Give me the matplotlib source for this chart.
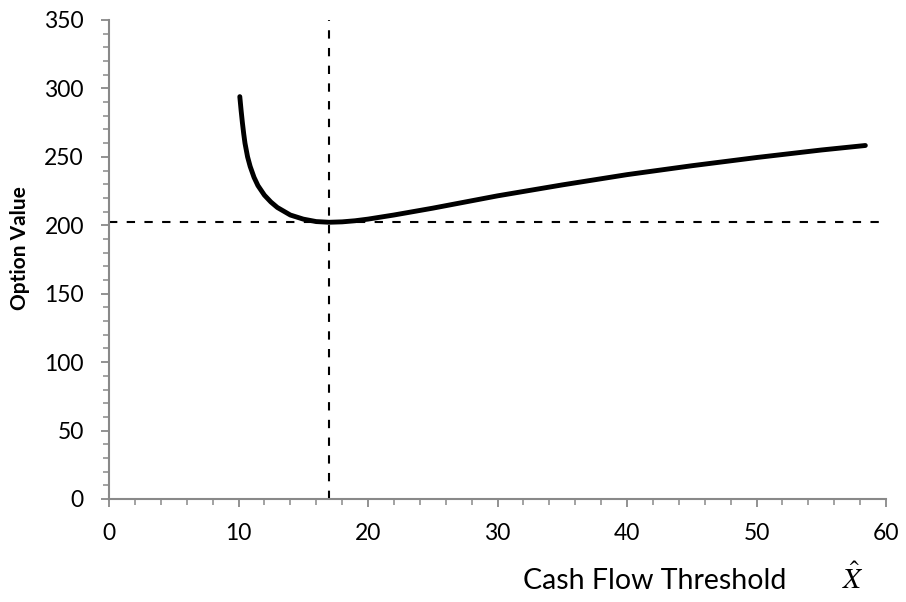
import numpy as np
import matplotlib
matplotlib.use("Agg")
import matplotlib.pyplot as plt
from matplotlib.ticker import MultipleLocator

# Data
threshold = [10.1, 10.2, 10.3, 10.4, 10.5, 10.7, 10.9, 11.2, 11.5, 12.0, 12.5,
             13.0, 14.0, 15.0, 16.0, 17.0, 18.0, 19.0, 20.0, 22.0, 25.0, 30.0,
             35.0, 40.0, 45.0, 50.0, 55.0, 58.4]
option_value = [294, 284, 275, 267, 260, 250, 243, 235, 229, 222, 217,
                213, 207.5, 204.5, 202.7, 202.2, 202.5, 203.3, 204.5, 207.5,
                212.5, 221.5, 229.5, 237, 243.5, 249.5, 255, 258.3]
opt_x = 17.0
opt_y = 202.2

plt.rcParams['font.family'] = ['Lato', 'DejaVu Sans']
plt.rcParams['mathtext.fontset'] = 'stix'

fig = plt.figure(figsize=(9.06, 6.02), dpi=100)
ax = fig.add_axes([0.1203, 0.1711, 0.978 - 0.1203, 0.9668 - 0.1711])

#main curve
ax.plot(threshold, option_value, color="black", lw=3.5,
        solid_capstyle="round", solid_joinstyle="round", zorder=3)

#optimum guides
ax.axhline(opt_y, color="black", lw=1.5, dashes=(4, 4.5), zorder=2)
ax.axvline(opt_x, color="black", lw=1.5, dashes=(4, 4.5), zorder=2)

ax.set_xlim(0, 60)
ax.set_ylim(0, 350)
ax.xaxis.set_major_locator(MultipleLocator(10))
ax.xaxis.set_minor_locator(MultipleLocator(2))
ax.yaxis.set_major_locator(MultipleLocator(50))
ax.yaxis.set_minor_locator(MultipleLocator(10))

for s in ["top", "right"]:
    ax.spines[s].set_visible(False)
for s in ["left", "bottom"]:
    ax.spines[s].set_color("#898989")
    ax.spines[s].set_linewidth(1.5)

ax.tick_params(which="major", length=6, width=1.3, color="#898989",
               labelsize=16.5)
ax.tick_params(which="minor", length=4, width=1.1, color="#898989")
ax.tick_params(axis="x", which="major", pad=11)
ax.tick_params(axis="y", which="major", pad=12)

#axis titles
fig.text(0.022, 0.588, "Option Value", fontsize=15, fontweight="bold",
         rotation=90, ha="center", va="center")
fig.text(0.723, 0.0216, "Cash Flow Threshold", fontsize=20.5, ha="center",
         va="baseline")
fig.text(0.941, 0.0216, r"$\hat{X}$", fontsize=21, ha="center",
         va="baseline")

plt.savefig("out.png", dpi=100)
